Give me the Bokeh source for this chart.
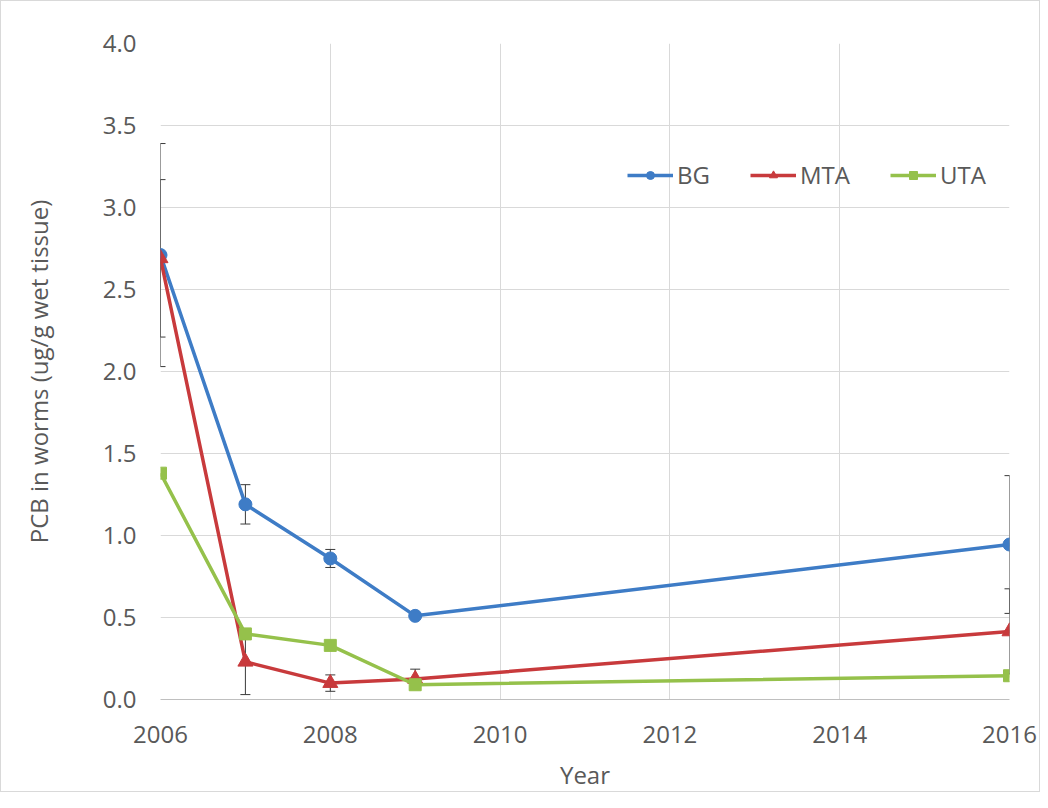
from bokeh.plotting import figure
from bokeh.models import (ColumnDataSource, Whisker, TeeHead, Legend, LegendItem,
                          FixedTicker, Range1d, CustomJSTickFormatter)
from bokeh.embed import file_html
from bokeh.resources import INLINE

years = [2006, 2007, 2008, 2009, 2016]
bg = [2.71, 1.19, 0.86, 0.51, 0.945]
mta = [2.69, 0.23, 0.10, 0.125, 0.415]
uta = [1.38, 0.40, 0.33, 0.09, 0.145]
bg_err = [0.68, 0.12, 0.055, 0.0, 0.42]
mta_err = [0.48, 0.20, 0.05, 0.06, 0.26]
uta_err = [0.0, 0.0, 0.0, 0.0, 0.0]

x_ticks = [2006, 2008, 2010, 2012, 2014, 2016]
y_ticks = [0, 0.5, 1.0, 1.5, 2.0, 2.5, 3.0, 3.5, 4.0]

series = [("BG", bg, bg_err, "#3E7CC6", "circle", 13),
          ("MTA", mta, mta_err, "#C83A3C", "triangle", 15),
          ("UTA", uta, uta_err, "#95C14B", "square", 12)]

FONT = "Open Sans"
TXT = "#595959"

p = figure(width=1040, height=792, output_backend="svg", toolbar_location=None,
           x_range=Range1d(2006, 2016), y_range=Range1d(0, 4.0),
           min_border_left=159, min_border_right=32, min_border_top=42,
           min_border_bottom=94)
p.styles = {"border": "1px solid #d9d9d9"}
p.outline_line_color = None
p.background_fill_color = "white"
p.border_fill_color = "white"

p.xaxis.ticker = FixedTicker(ticks=x_ticks)
p.yaxis.ticker = FixedTicker(ticks=y_ticks)
p.yaxis.formatter = CustomJSTickFormatter(code="return tick.toFixed(1);")

for ax in (p.xaxis[0], p.yaxis[0]):
    ax.major_tick_line_color = None
    ax.minor_tick_line_color = None
    ax.major_label_text_font = FONT
    ax.major_label_text_font_size = "24px"
    ax.major_label_text_color = TXT
    ax.axis_label_text_font = FONT
    ax.axis_label_text_font_size = "24px"
    ax.axis_label_text_font_style = "normal"
    ax.axis_label_text_color = TXT
p.xaxis.axis_line_color = "#BFBFBF"
p.yaxis.axis_line_color = None
p.xaxis.major_label_standoff = 20
p.yaxis.major_label_standoff = 18
p.xaxis.axis_label = "Year"
p.yaxis.axis_label = "PCB in worms (ug/g wet tissue)"
p.xaxis.axis_label_standoff = 12
p.yaxis.axis_label_standoff = 45

p.xgrid.grid_line_color = "#D9D9D9"
p.ygrid.grid_line_color = "#D9D9D9"
p.xgrid.grid_line_width = 1
p.ygrid.grid_line_width = 1

for name, vals, errs, color, marker, size in series:
    xs = [y for y, e in zip(years, errs) if e > 0]
    up = [v + e for v, e in zip(vals, errs) if e > 0]
    lo = [v - e for v, e in zip(vals, errs) if e > 0]
    if xs:
        wsrc = ColumnDataSource(dict(x=xs, upper=up, lower=lo))
        w = Whisker(source=wsrc, base="x", upper="upper", lower="lower",
                    line_color="#3a3a3a", line_width=1,
                    upper_head=TeeHead(size=10, line_color="#3a3a3a", line_width=1),
                    lower_head=TeeHead(size=10, line_color="#3a3a3a", line_width=1))
        p.add_layout(w)

items = []
for name, vals, errs, color, marker, size in series:
    src = ColumnDataSource(dict(x=years, y=vals))
    ln = p.line("x", "y", source=src, line_color=color, line_width=3.5)
    sc = p.scatter("x", "y", source=src, marker=marker, size=size,
                   fill_color=color, line_color=color)
    items.append(LegendItem(label=name, renderers=[ln, sc]))

legend = Legend(items=items, orientation="horizontal", location=(467, 508),
                label_text_font=FONT, label_text_font_size="24px",
                label_text_color=TXT, glyph_width=46, glyph_height=20,
                label_standoff=4, spacing=40, padding=0, margin=0,
                border_line_color=None, background_fill_alpha=0)
p.add_layout(legend)

open("out.html", "w").write(file_html(p, INLINE))
